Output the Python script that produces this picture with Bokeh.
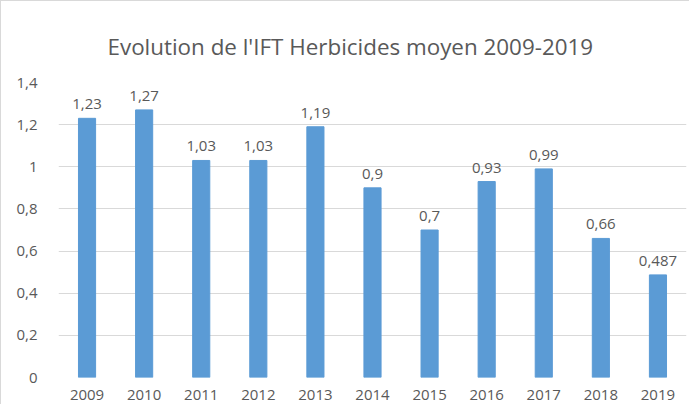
from bokeh.plotting import figure
from bokeh.models import ColumnDataSource, Range1d, FixedTicker, CustomJSTickFormatter, LabelSet
from bokeh.core.properties import value
from bokeh.embed import file_html
from bokeh.resources import INLINE

years = ["2009", "2010", "2011", "2012", "2013", "2014", "2015", "2016", "2017", "2018", "2019"]
values = [1.23, 1.27, 1.03, 1.03, 1.19, 0.9, 0.7, 0.93, 0.99, 0.66, 0.487]
labels = ["1,23", "1,27", "1,03", "1,03", "1,19", "0,9", "0,7", "0,93", "0,99", "0,66", "0,487"]
y_ticks = [0, 0.2, 0.4, 0.6, 0.8, 1.0, 1.2, 1.4]
title_text = "Evolution de l'IFT Herbicides moyen 2009-2019"

FONT = "Open Sans"
GRAY = "#595959"

src = ColumnDataSource(dict(x=years, top=values, lab=labels))

p = figure(x_range=years, y_range=Range1d(0, 1.4), width=689, height=404,
           output_backend="svg", toolbar_location=None,
           min_border_left=57, min_border_right=4, min_border_top=81, min_border_bottom=28)

p.vbar(x="x", top="top", width=0.3, source=src, color="#5B9BD5")

ls = LabelSet(x="x", y="top", text="lab", source=src, text_align="center",
              text_baseline="bottom", y_offset=9, text_font=value(FONT),
              text_font_size="15px", text_color=GRAY)
p.add_layout(ls)

p.title.text = title_text
p.title.align = "left"
p.title.text_font = FONT
p.title.text_font_size = "22.4px"
p.title.text_font_style = "normal"
p.title.text_color = GRAY
p.title.offset = 49
p.title.standoff = 41

p.yaxis.ticker = FixedTicker(ticks=y_ticks)
p.yaxis.formatter = CustomJSTickFormatter(code="return parseFloat(tick.toFixed(1)).toString().replace('.', ',');")
p.ygrid.ticker = FixedTicker(ticks=y_ticks)
p.ygrid.grid_line_color = "#D9D9D9"
p.xgrid.grid_line_color = None

for ax in (p.xaxis, p.yaxis):
    ax.axis_line_color = None
    ax.major_tick_line_color = None
    ax.minor_tick_line_color = None
    ax.major_label_text_font = FONT
    ax.major_label_text_font_size = "15px"
    ax.major_label_text_color = GRAY
p.yaxis.major_label_standoff = 15
p.xaxis.major_label_standoff = 6

p.outline_line_color = None
p.styles = {"border-left": "1px solid #D9D9D9", "border-top": "1px solid #D9D9D9"}

open("out.html", "w").write(file_html(p, INLINE))
